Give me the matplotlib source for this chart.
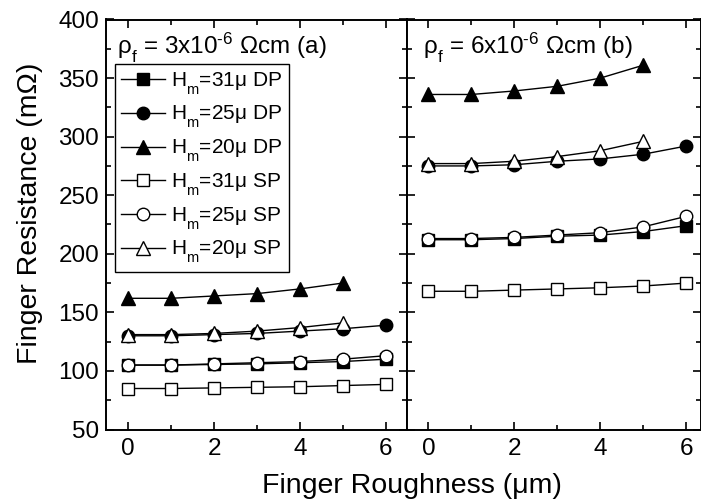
import numpy as np
import matplotlib
matplotlib.use('Agg')
import matplotlib.pyplot as plt
from matplotlib.ticker import MultipleLocator

plt.rcParams['font.family'] = ['Liberation Sans', 'DejaVu Sans']
plt.rcParams['mathtext.fontset'] = 'custom'
plt.rcParams['mathtext.rm'] = 'Liberation Sans'
plt.rcParams['mathtext.it'] = 'Liberation Sans:italic'
# push subscripts a little lower, like the original figure
try:
    import matplotlib._mathtext as _mt
    _mt.FontConstantsBase.sub1 = 0.75
except Exception:
    pass

# finger roughness (um)
rough = [0, 1, 2, 3, 4, 5, 6]

labels = ['H$_\\mathrm{m}$=31μ DP', 'H$_\\mathrm{m}$=25μ DP', 'H$_\\mathrm{m}$=20μ DP',
          'H$_\\mathrm{m}$=31μ SP', 'H$_\\mathrm{m}$=25μ SP', 'H$_\\mathrm{m}$=20μ SP']
markers = ['s', 'o', '^', 's', 'o', '^']
filled = [True, True, True, False, False, False]

# rho_f = 3e-6 ohm cm
a_dp31 = [105, 105, 105.5, 106, 107, 108, 110]
a_dp25 = [130, 130, 131, 132, 134, 136, 139]
a_dp20 = [162, 162, 164, 166, 170, 175]
a_sp31 = [85, 85, 85.5, 86, 86.5, 87.5, 88.5]
a_sp25 = [105, 105, 106, 107, 108, 110, 113]
a_sp20 = [131, 131, 132, 134, 137, 141]

# rho_f = 6e-6 ohm cm
b_dp31 = [212, 212, 213, 215, 216, 219, 224]
b_dp25 = [275, 275, 276, 279, 281, 285, 292]
b_dp20 = [336, 336, 339, 343, 350, 361]
b_sp31 = [168, 168, 169, 170, 171, 172.5, 175]
b_sp25 = [213, 213, 214, 216, 218, 223, 232]
b_sp20 = [277, 277, 279, 283, 288, 296]

panel_a = [a_dp31, a_dp25, a_dp20, a_sp31, a_sp25, a_sp20]
panel_b = [b_dp31, b_dp25, b_dp20, b_sp31, b_sp25, b_sp20]

W, H = 701, 504
fig = plt.figure(figsize=(W / 100, H / 100), dpi=100)
x0, x1, x2 = 106, 407, 700.5
yb, yt = 429.5, 19.5
ax1 = fig.add_axes([x0 / W, 1 - yb / H, (x1 - x0) / W, (yb - yt) / H])
ax2 = fig.add_axes([x1 / W, 1 - yb / H, (x2 - x1) / W, (yb - yt) / H])

msize = {'s': 8.5, 'o': 9, '^': 10}

for ax, data in [(ax1, panel_a), (ax2, panel_b)]:
    for i, y in enumerate(data):
        ax.plot(rough[:len(y)], y, color='black', lw=1.0, marker=markers[i],
                ms=msize[markers[i]],
                mfc='black' if filled[i] else 'white', mec='black', mew=1.0,
                label=labels[i], zorder=3 + (1 if not filled[i] else 0))
    ax.set_ylim(50, 400)
    ax.xaxis.set_major_locator(MultipleLocator(2))
    ax.xaxis.set_minor_locator(MultipleLocator(1))
    ax.yaxis.set_major_locator(MultipleLocator(50))
    ax.yaxis.set_minor_locator(MultipleLocator(25))
    ax.tick_params(which='both', direction='in', top=True, right=True,
                   width=1.2, labelsize=17.5)
    ax.tick_params(which='major', length=6)
    ax.tick_params(which='minor', length=3.5)
    ax.tick_params(axis='x', pad=6)
    ax.tick_params(axis='y', pad=5)
    for s in ax.spines.values():
        s.set_linewidth(1.4)

ax1.set_xlim(-0.52, 6.5)
ax2.set_xlim(-0.5, 6.33)
ax2.tick_params(labelleft=False)

ax1.text(0.037, 0.918, 'ρ$_\\mathrm{f}$ = 3x10$^{\u2010 6}$ Ωcm (a)', transform=ax1.transAxes,
         fontsize=17.5, va='baseline', ha='left')
ax2.text(0.054, 0.918, 'ρ$_\\mathrm{f}$ = 6x10$^{\u2010 6}$ Ωcm (b)', transform=ax2.transAxes,
         fontsize=17.5, va='baseline', ha='left')

leg = ax1.legend(loc='upper left', bbox_to_anchor=(0.03, 0.891), borderaxespad=0,
                 fontsize=15, handlelength=2.1, handletextpad=0.3, labelspacing=0.36,
                 borderpad=0.3, fancybox=False, framealpha=1, edgecolor='black')
leg.get_frame().set_linewidth(1.0)

fig.text(412 / W, 1 - 486 / H, 'Finger Roughness (μm)', fontsize=20.5, ha='center', va='center')
fig.text(30 / W, 1 - 213 / H, 'Finger Resistance (mΩ)', fontsize=20.5, ha='center', va='center',
         rotation=90)

fig.savefig('out.png', dpi=100)
